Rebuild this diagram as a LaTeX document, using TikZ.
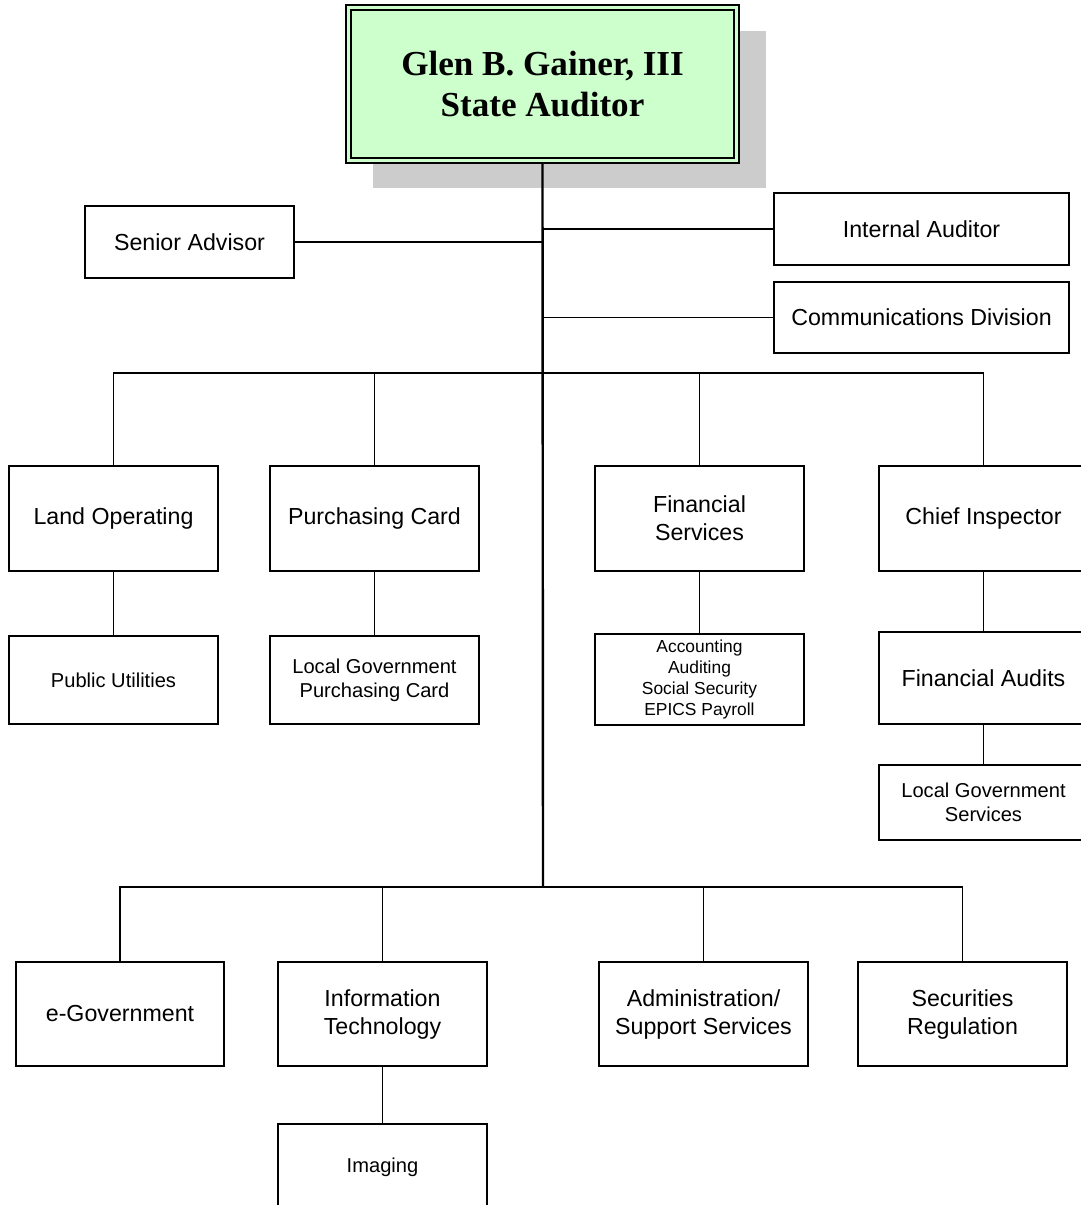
\documentclass[tikz,border=0pt]{standalone}
\usepackage{fontspec}
\setmainfont{Liberation Serif}
\setsansfont{Liberation Sans}
\definecolor{mint}{HTML}{CCFFCC}
\definecolor{shadowgray}{HTML}{CCCCCC}
\begin{document}
\begin{tikzpicture}[x=1pt,y=-1pt,
  box/.style={draw,line width=1.6pt,inner sep=0pt,align=center,fill=white,
    font=\sffamily\fontsize{23.2}{28}\selectfont},
  wbox/.style={box,minimum width=209pt},
  subbox/.style={wbox,font=\sffamily\fontsize{20.1}{24}\selectfont},
  listbox/.style={wbox,font=\sffamily\fontsize{17.4}{21}\selectfont},
  conn/.style={line width=1.6pt},
  trunk/.style={line width=2.4pt}]
\useasboundingbox (0,0) rectangle (1080,1205);
% top box with shadow
\fill[shadowgray] (373,31) rectangle (766,188);
\node[box,fill=mint,line width=2pt,minimum width=393pt,minimum height=158pt,
  font=\bfseries\fontsize{35.1}{41}\selectfont] (top) at (542.5,84)
  {Glen B. Gainer, III\\State Auditor};
\draw[line width=1.6pt] ([xshift=6pt,yshift=-6pt]top.north west) rectangle ([xshift=-6pt,yshift=6pt]top.south east);
\coordinate (bus1) at (543,373);
\coordinate (bus2) at (543,887);
% staff boxes
\node[box,minimum width=209pt,minimum height=72pt] (sa) at (189.5,242) {Senior Advisor};
\node[box,minimum width=295pt,minimum height=72pt] (ia) at (921.5,229) {Internal Auditor};
\node[box,minimum width=295pt,minimum height=71pt] (cd) at (921.5,317.5) {Communications Division};
% first row
\node[wbox,minimum height=105pt] (lo) at (113.5,518.5) {Land Operating};
\node[wbox,minimum height=105pt] (pc) at (374.5,518.5) {Purchasing Card};
\node[wbox,minimum height=105pt] (fs) at (699.5,518.5) {Financial\\Services};
\node[wbox,minimum height=105pt] (ci) at (983.5,518.5) {Chief Inspector};
% sub boxes
\node[subbox,minimum height=88pt] (pu) at (113.5,680) {Public Utilities};
\node[subbox,minimum height=88pt] (lgpc) at (374.5,680) {Local Government\\Purchasing Card};
\node[listbox,minimum height=91pt] (acc) at (699.5,679.5) {Accounting\\Auditing\\Social Security\\EPICS Payroll};
\node[wbox,minimum height=92pt] (fa) at (983.5,678) {Financial Audits};
\node[subbox,minimum height=75pt] (lgs) at (983.5,802.5) {Local Government\\Services};
% second row
\node[box,minimum width=208pt,minimum height=104pt] (eg) at (120,1014) {e-Government};
\node[wbox,minimum height=104pt] (it) at (382.5,1014) {Information\\Technology};
\node[wbox,minimum height=104pt] (adm) at (703.5,1014) {Administration/\\Support Services};
\node[wbox,minimum height=104pt] (sr) at (962.5,1014) {Securities\\Regulation};
\node[subbox,minimum height=86pt] (img) at (382.5,1167) {Imaging};
% connectors
\draw[trunk] (top.south) -- (bus2);
\draw[conn] (sa.east) -- (sa.east -| top.south);
\draw[conn] (ia.west) -- (ia.west -| top.south);
\draw[conn] (cd.west) -- (cd.west -| top.south);
\draw[conn] (lo.north) -- (lo.north |- bus1) -- (ci.north |- bus1) -- (ci.north);
\draw[conn] (pc.north) -- (pc.north |- bus1);
\draw[conn] (fs.north) -- (fs.north |- bus1);
\draw[conn] (lo.south) -- (pu.north);
\draw[conn] (pc.south) -- (lgpc.north);
\draw[conn] (fs.south) -- (acc.north);
\draw[conn] (ci.south) -- (fa.north);
\draw[conn] (fa.south) -- (lgs.north);
\draw[conn] (eg.north) -- (eg.north |- bus2) -- (sr.north |- bus2) -- (sr.north);
\draw[conn] (it.north) -- (it.north |- bus2);
\draw[conn] (adm.north) -- (adm.north |- bus2);
\draw[conn] (it.south) -- (img.north);
\end{tikzpicture}
\end{document}
